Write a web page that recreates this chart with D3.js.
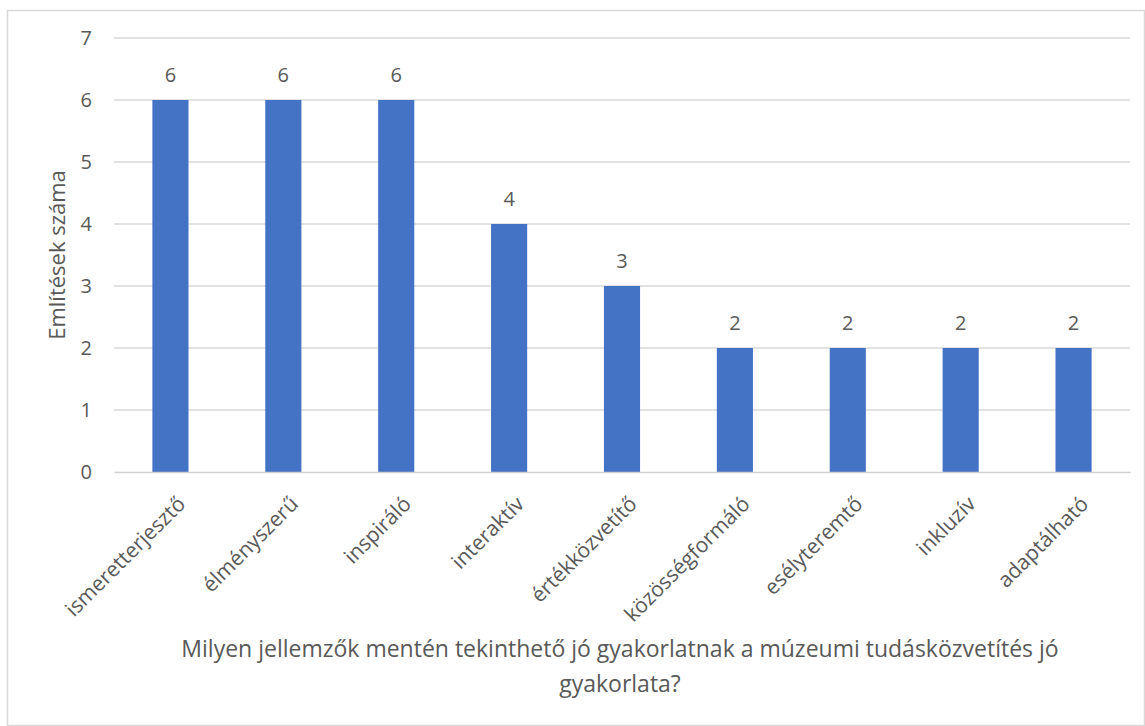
<!DOCTYPE html>
<html>
<head>
<meta charset="utf-8">
<script src="https://cdn.jsdelivr.net/npm/d3@7"></script>
<style>
  html, body { margin: 0; padding: 0; background: #fff; overflow: hidden; }
  svg { display: block; }
  text { font-family: "Open Sans", "Noto Sans", sans-serif; fill: #595959; }
</style>
</head>
<body>
<svg id="chart"></svg>
<script>
const categories = ["ismeretterjesztő", "élményszerű", "inspiráló", "interaktív", "értékközvetítő",
                    "közösségformáló", "esélyteremtő", "inkluzív", "adaptálható"];
const values = [6, 6, 6, 4, 3, 2, 2, 2, 2];
const yTicks = [0, 1, 2, 3, 4, 5, 6, 7];
const yTitle = "Említések száma";
const xTitleLines = ["Milyen jellemzők mentén tekinthető jó gyakorlatnak a múzeumi tudásközvetítés jó",
                     "gyakorlata?"];

const width = 1145;
const height = 726;
const margin = { top: 38, right: 15, bottom: 254, left: 114 };
const innerWidth = width - margin.left - margin.right;
const innerHeight = height - margin.top - margin.bottom;

const svg = d3.select("#chart")
    .attr("width", width)
    .attr("height", height);

// keret
svg.append("rect")
    .attr("x", 7.5).attr("y", 10.5)
    .attr("width", width - 8).attr("height", height - 11)
    .attr("fill", "none")
    .attr("stroke", "#d9d9d9")
    .attr("stroke-width", 1.5);

const g = svg.append("g")
    .attr("transform", `translate(${margin.left},${margin.top})`);

const xScale = d3.scaleBand()
    .domain(categories)
    .range([0, innerWidth])
    .paddingInner(0.68)
    .paddingOuter(0.34);

const yScale = d3.scaleLinear()
    .domain([0, 7])
    .range([innerHeight, 0]);

// rácsvonalak
g.append("g")
    .selectAll("line")
    .data(yTicks.filter(d => d > 0))
    .enter()
    .append("line")
    .attr("x1", 0).attr("x2", innerWidth)
    .attr("y1", d => yScale(d)).attr("y2", d => yScale(d))
    .attr("stroke", "#d9d9d9")
    .attr("stroke-width", 1.3);

// y tengely
const yAxis = d3.axisLeft(yScale).tickValues(yTicks).tickFormat(d3.format("d")).tickSize(0).tickPadding(22);
g.append("g")
    .attr("class", "y-axis")
    .call(yAxis)
    .call(s => s.select(".domain").remove())
    .selectAll("text")
    .attr("font-size", 20)
    .attr("font-family", null)
    .attr("fill", "#595959");

// oszlopok
g.selectAll("rect.bar")
    .data(values)
    .enter()
    .append("rect")
    .attr("class", "bar")
    .attr("x", (d, i) => xScale(categories[i]))
    .attr("y", d => yScale(d))
    .attr("width", xScale.bandwidth())
    .attr("height", d => innerHeight - yScale(d))
    .attr("fill", "#4472c4");

// x tengely
const xAxis = d3.axisBottom(xScale).tickSize(0).tickPadding(0);
const xg = g.append("g")
    .attr("class", "x-axis")
    .attr("transform", `translate(0,${innerHeight})`)
    .call(xAxis);
xg.select(".domain").attr("stroke", "#d0d0d0").attr("stroke-width", 1.5);
xg.selectAll("text")
    .attr("font-size", 21)
    .attr("font-family", null)
    .attr("fill", "#595959")
    .attr("text-anchor", "end")
    .attr("dy", "0.35em")
    .attr("transform", "translate(11,28) rotate(-45)");

// értékcímkék
g.selectAll("text.label")
    .data(values)
    .enter()
    .append("text")
    .attr("class", "label")
    .attr("x", (d, i) => xScale(categories[i]) + xScale.bandwidth() / 2)
    .attr("y", d => yScale(d) - 18)
    .attr("text-anchor", "middle")
    .attr("font-size", 20)
    .text(d => d);

// tengelycímek
svg.append("text")
    .attr("transform", `translate(57,${margin.top + innerHeight / 2}) rotate(-90)`)
    .attr("text-anchor", "middle")
    .attr("dy", "0.35em")
    .attr("font-size", 22)
    .text(yTitle);

svg.append("g")
    .selectAll("text")
    .data(xTitleLines)
    .enter()
    .append("text")
    .attr("x", 620)
    .attr("y", (d, i) => 657 + i * 35)
    .attr("text-anchor", "middle")
    .attr("font-size", 23)
    .text(d => d);
</script>
</body>
</html>
